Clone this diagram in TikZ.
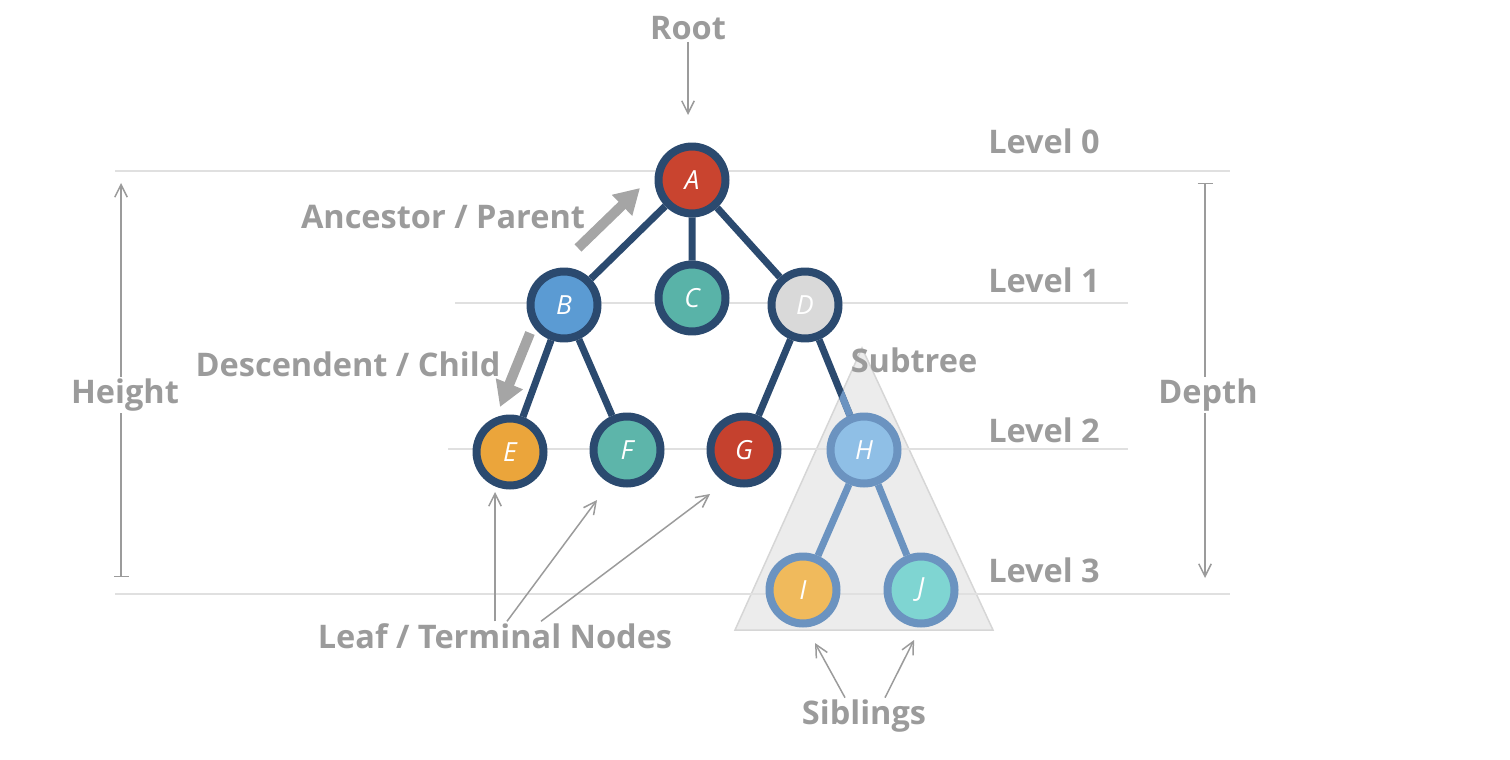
\documentclass[tikz,border=0pt]{standalone}
\usepackage{fontspec}
\setmainfont{Open Sans}
\usetikzlibrary{arrows.meta, positioning}

\definecolor{navy}{HTML}{2B4A6F}
\definecolor{subnavy}{HTML}{6B93C0}
\definecolor{textgray}{HTML}{9B9B9B}
\definecolor{linegray}{HTML}{E0E0E0}
\definecolor{trifill}{HTML}{ECECEC}
\definecolor{tridraw}{HTML}{D6D6D6}
\definecolor{cA}{HTML}{C9442F}
\definecolor{cB}{HTML}{5B9BD3}
\definecolor{cC}{HTML}{59B3A8}
\definecolor{cD}{HTML}{D9D9D9}
\definecolor{cE}{HTML}{EBA53B}
\definecolor{cF}{HTML}{5DB5AA}
\definecolor{cG}{HTML}{C5412E}
\definecolor{cH}{HTML}{8FBFE6}
\definecolor{cI}{HTML}{F0BA5C}
\definecolor{cJ}{HTML}{7FD5D2}

\begin{document}
\begin{tikzpicture}[x=0.02cm, y=-0.02cm,
  vertex/.style={draw=navy, circle, line width=0.16cm, minimum size=1.34cm, inner sep=0pt, text=white, font=\fontsize{15}{15}\selectfont\itshape},
  subvertex/.style={vertex, draw=subnavy},
  link/.style={draw=navy, line width=0.14cm},
  sublink/.style={link, draw=subnavy},
  levelline/.style={draw=linegray, line width=0.05cm},
  caption/.style={text=textgray, font=\fontsize{18.5}{21}\selectfont\bfseries, inner sep=1pt},
  pointer/.style={draw=textgray, line width=0.03cm, -{Straight Barb[length=0.25cm, width=0.25cm]}},
  ruler/.style={draw=textgray, line width=0.03cm, {Bar[width=0.3cm]}-},
  bigarrow/.style={draw=textgray!90, line width=0.2cm, -{Triangle[length=0.5cm, width=0.55cm]}}
  ]
  \useasboundingbox (0,0) rectangle (1510,760);

  % subtree
  \draw[fill=trifill, draw=tridraw, line width=0.03cm] (862,348) -- (735,630) -- (993,630) -- cycle;

  % levels
  \draw[levelline] (115,171) -- (1230,171);
  \draw[levelline] (455,303) -- (1128,303);
  \draw[levelline] (448,449) -- (1128,449);
  \draw[levelline] (115,594) -- (1230,594);
  \node[caption] (l0) at (1044,141) {Level 0};
  \node[caption] (l1) at (1044,280) {Level 1};
  \node[caption] (l2) at (1044,430) {Level 2};
  \node[caption] (l3) at (1044,570) {Level 3};

  % tree
  \node[vertex, fill=cA] (A) at (692,180) {A};
  \node[vertex, fill=cB] (B) at (564,305) {B};
  \node[vertex, fill=cC] (C) at (692,298) {C};
  \node[vertex, fill=cD] (D) at (805,305) {D};
  \node[vertex, fill=cE] (E) at (510,452) {E};
  \node[vertex, fill=cF] (F) at (627,450) {F};
  \node[vertex, fill=cG] (G) at (744,450) {G};
  \node[subvertex, fill=cH] (H) at (864,450) {H};
  \node[subvertex, fill=cI] (I) at (803,590) {I};
  \node[subvertex, fill=cJ] (J) at (921,590) {J};

  \path[link] (A) -- (B) (A) -- (C) (A) -- (D)
    (B) -- (E) (B) -- (F) (D) -- (G) (D) -- (H);
  \begin{scope}
    \clip (862,348) -- (735,630) -- (993,630) -- cycle;
    \path[sublink] (D) -- (H);
  \end{scope}
  \path[sublink] (H) -- (I) (H) -- (J);

  % labels
  \node[caption] (root) at (688,28) {Root};
  \coordinate (roottip) at (688,115);
  \draw[pointer] (root.south) -- (roottip);

  \node[caption] (anc) at (443,217) {Ancestor / Parent};
  \coordinate (ancfrom) at (578,248);
  \coordinate (ancto) at (640,188);
  \draw[bigarrow] (ancfrom) -- (ancto);

  \node[caption] (desc) at (348,364) {Descendent / Child};
  \coordinate (descfrom) at (530,333);
  \coordinate (descto) at (500,407);
  \draw[bigarrow] (descfrom) -- (descto);

  \node[caption] (sub) at (914,360) {Subtree};

  \node[caption] (leaf) at (495,636) {Leaf / Terminal Nodes};
  \coordinate (tipE) at (495,492);
  \coordinate (tipF) at (597,500);
  \coordinate (tipG) at (710,494);
  \draw[pointer] (leaf.north) -- (tipE);
  \draw[pointer] ([xshift=0.24cm]leaf.north) -- (tipF);
  \draw[pointer] ([xshift=0.92cm]leaf.north) -- (tipG);

  \node[caption] (sib) at (864,716) {Siblings};
  \coordinate (tipI) at (815,643);
  \coordinate (tipJ) at (914,640);
  \draw[pointer] ([xshift=-0.38cm]sib.north) -- (tipI);
  \draw[pointer] ([xshift=0.42cm]sib.north) -- (tipJ);

  % height and depth
  \node[caption, fill=white] (height) at (125,395) {Height};
  \coordinate (hbot) at (121,577);
  \coordinate (htop) at (121,183);
  \draw[ruler] (hbot) -- (height.south -| hbot);
  \draw[pointer] (height.north -| htop) -- (htop);

  \node[caption, fill=white] (depth) at (1208,395) {Depth};
  \coordinate (dtop) at (1205,183);
  \coordinate (dbot) at (1205,578);
  \draw[ruler] (dtop) -- (depth.north -| dtop);
  \draw[pointer] (depth.south -| dbot) -- (dbot);
\end{tikzpicture}
\end{document}
